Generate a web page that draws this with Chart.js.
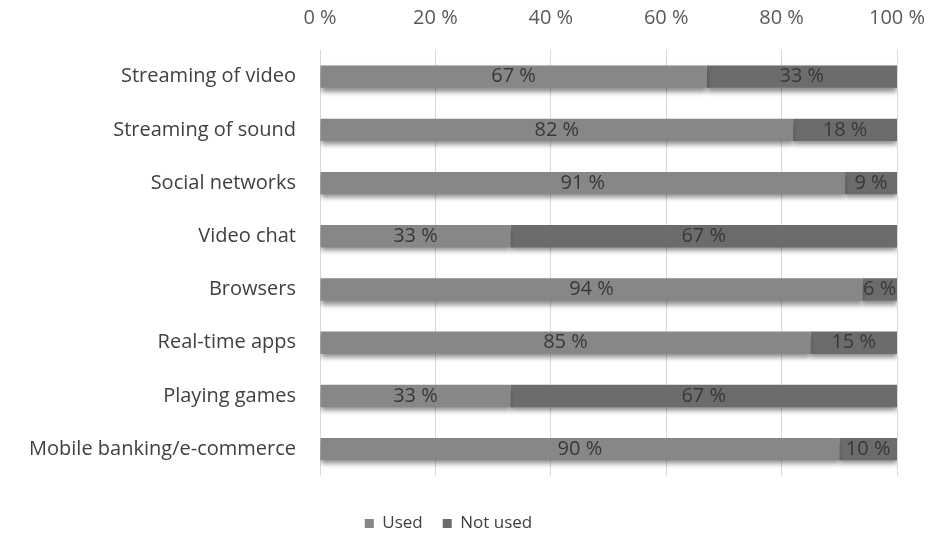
<!DOCTYPE html>
<html>
<head>
<meta charset="utf-8">
<script src="https://cdn.jsdelivr.net/npm/chart.js@4"></script>
<style>
  html, body { margin: 0; padding: 0; background: #fff; overflow: hidden; }
  #wrap { width: 930px; height: 537px; }
</style>
</head>
<body>
<div id="wrap"><canvas id="usageChart"></canvas></div>
<script>
// Categories, top to bottom
var categories = ['Streaming of video', 'Streaming of sound', 'Social networks', 'Video chat',
    'Browsers', 'Real-time apps', 'Playing games', 'Mobile banking/e-commerce'];

// Share of respondents (%)
var usedValues = [67, 82, 91, 33, 94, 85, 33, 90];
var notUsedValues = [33, 18, 9, 67, 6, 15, 67, 10];

var tickValues = [0, 20, 40, 60, 80, 100];

var FONT = '"Open Sans", "Segoe UI", sans-serif';

// Soft drop shadow under the bars
var barShadow = {
    id: 'barShadow',
    beforeDatasetsDraw: function (chart) {
        var ctx = chart.ctx;
        ctx.save();
        ctx.shadowColor = 'rgba(0, 0, 0, 0.45)';
        ctx.shadowBlur = 5;
        ctx.shadowOffsetX = 0;
        ctx.shadowOffsetY = 4;
    },
    afterDatasetsDraw: function (chart) {
        chart.ctx.restore();
    }
};

// Value labels in the middle of each segment
var valueLabels = {
    id: 'valueLabels',
    afterDatasetsDraw: function (chart) {
        var ctx = chart.ctx;
        ctx.save();
        ctx.shadowColor = 'transparent';
        ctx.font = '20px ' + FONT;
        ctx.fillStyle = '#383838';
        ctx.textAlign = 'center';
        ctx.textBaseline = 'middle';
        chart.data.datasets.forEach(function (ds, di) {
            chart.getDatasetMeta(di).data.forEach(function (bar, i) {
                var x = (bar.x + bar.base) / 2;
                ctx.fillText(ds.data[i] + ' %', x, bar.y);
            });
        });
        ctx.restore();
    }
};

var ctx = document.getElementById('usageChart').getContext('2d');
var usageChart = new Chart(ctx, {
    type: 'bar',
    data: {
        labels: categories,
        datasets: [{
            label: 'Used',
            data: usedValues,
            backgroundColor: '#878787'
        }, {
            label: 'Not used',
            data: notUsedValues,
            backgroundColor: '#6c6c6c'
        }]
    },
    options: {
        indexAxis: 'y',
        responsive: true,
        maintainAspectRatio: false,
        animation: false,
        categoryPercentage: 0.42,
        barPercentage: 1,
        layout: { padding: { top: 2, right: 33, bottom: -5, left: 0 } },
        scales: {
            x: {
                position: 'top',
                stacked: true,
                min: 0,
                max: 100,
                afterBuildTicks: function (scale) {
                    scale.ticks = tickValues.map(function (v) { return { value: v }; });
                },
                afterFit: function (scale) {
                    // fixed header height; let "100 %" hang into the right margin
                    scale.height = 48;
                    scale.paddingLeft = 0;
                    scale.paddingRight = 0;
                },
                ticks: {
                    padding: 20,
                    color: '#595959',
                    font: { family: FONT, size: 20 },
                    callback: function (v) { return v + ' %'; }
                },
                grid: { color: '#d9d9d9', drawTicks: false },
                border: { display: false }
            },
            y: {
                stacked: true,
                afterFit: function (scale) { scale.width = 320; },
                ticks: {
                    padding: 16,
                    color: '#404040',
                    font: { family: FONT, size: 20 }
                },
                grid: { display: false },
                border: { display: false }
            }
        },
        plugins: {
            legend: {
                position: 'bottom',
                // empty title only adds space above the legend row
                title: { display: true, text: '', padding: 9, font: { size: 1 } },
                labels: {
                    boxWidth: 9,
                    boxHeight: 9,
                    padding: 20,
                    color: '#404040',
                    font: { family: FONT, size: 17 }
                }
            },
            tooltip: { enabled: false }
        }
    },
    plugins: [barShadow, valueLabels]
});
</script>
</body>
</html>
